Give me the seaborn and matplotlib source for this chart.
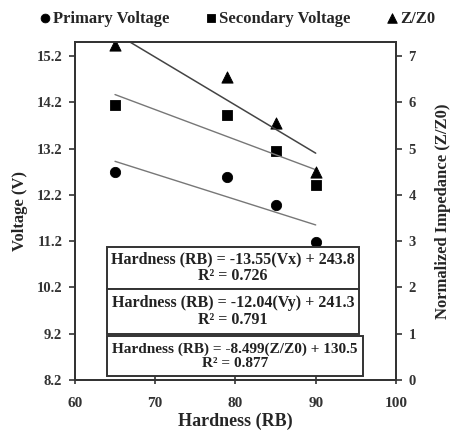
import numpy as np
import pandas as pd
import matplotlib
matplotlib.use("Agg")
import matplotlib.pyplot as plt
from matplotlib.patches import Rectangle
import seaborn as sns

# data
hardness = [65, 79, 85, 90]
primary_v = [12.70, 12.59, 11.98, 11.18]
secondary_v = [14.14, 13.93, 13.15, 12.41]
z_ratio = [7.24, 6.55, 5.56, 4.50]

equations = [
    "Hardness (RB) = -13.55(Vx) + 243.8\nR\u00b2 = 0.726",
    "Hardness (RB) = -12.04(Vy) + 241.3\nR\u00b2 = 0.791",
    "Hardness (RB) = -8.499(Z/Z0) + 130.5\nR\u00b2 = 0.877",
]

df = pd.DataFrame({"hardness": hardness, "primary": primary_v,
                   "secondary": secondary_v, "z": z_ratio})

sns.set_style("ticks")
plt.rcParams["font.family"] = ["Liberation Serif", "DejaVu Serif"]
plt.rcParams["font.weight"] = "bold"

fig = plt.figure(figsize=(4.51, 4.34), dpi=100)
ax = fig.add_axes([0.166, 0.1244, 0.712, 0.7788])
ax2 = ax.twinx()

# trend lines
sns.regplot(data=df, x="hardness", y="primary", ax=ax, ci=None, scatter=False,
            truncate=True, line_kws={"color": "#777777", "lw": 1.0})
sns.regplot(data=df, x="hardness", y="secondary", ax=ax, ci=None, scatter=False,
            truncate=True, line_kws={"color": "#777777", "lw": 1.0})
sns.regplot(data=df, x="hardness", y="z", ax=ax2, ci=None, scatter=False,
            truncate=True, line_kws={"color": "#444444", "lw": 1.1})

sns.scatterplot(data=df, x="hardness", y="primary", ax=ax, marker="o",
                color="black", s=55, edgecolor="black", label="Primary Voltage", legend=False)
sns.scatterplot(data=df, x="hardness", y="secondary", ax=ax, marker="s",
                color="black", s=55, edgecolor="black", label="Secondary Voltage", legend=False)
sns.scatterplot(data=df, x="hardness", y="z", ax=ax2, marker="^",
                color="black", s=65, edgecolor="black", label="Z/Z0", legend=False)

ax.set_xlim(60, 100)
ax.set_ylim(8.2, 15.5)
ax2.set_ylim(0, 7.3)
ax.set_xticks([60, 70, 80, 90, 100])
ax.set_yticks([8.2, 9.2, 10.2, 11.2, 12.2, 13.2, 14.2, 15.2])
ax.set_yticklabels(["8.2", "9.2", "10.2", "11.2", "12.2", "13.2", "14.2", "15.2"])
ax2.set_yticks(range(0, 8))

for a in (ax, ax2):
    for s in a.spines.values():
        s.set_visible(True)
        s.set_linewidth(1.3)
        s.set_color("#333333")
    a.tick_params(axis="y", direction="out", length=4, width=1.2, labelsize=10.5,
                  colors="#333333", pad=5)
ax.tick_params(axis="x", direction="inout", length=6, width=1.2, labelsize=11,
               colors="#333333", pad=9)

ax.set_xlabel("Hardness (RB)", fontsize=13, fontweight="bold", labelpad=2)
ax.set_ylabel("Voltage (V)", fontsize=12, fontweight="bold", labelpad=6)
ax2.set_ylabel("Normalized Impedance (Z/Z0)", fontsize=12, fontweight="bold", labelpad=14)

# equation boxes (axes fractions)
boxes = [(0.10, 0.269, 0.785, 0.124),
         (0.10, 0.136, 0.785, 0.133),
         (0.10, 0.012, 0.797, 0.118)]
for txt, (bx, by, bw, bh), fs in zip(equations, boxes, [11.5, 11.5, 11]):
    ax.add_patch(Rectangle((bx, by), bw, bh, transform=ax.transAxes, fc="white",
                           ec="#333333", lw=1.4, zorder=5))
    ax.text(bx + bw / 2, by + bh / 2, txt, transform=ax.transAxes, ha="center",
            va="center", fontsize=fs, fontweight="bold", linespacing=1.05,
            color="#222222", zorder=6)

h1, l1 = ax.get_legend_handles_labels()
h2, l2 = ax2.get_legend_handles_labels()
fig.legend(h1 + h2, l1 + l2, loc="upper center", bbox_to_anchor=(0.525, 1.01),
           ncol=3, frameon=False, handlelength=0.8, handletextpad=0.1,
           columnspacing=2.1, prop={"weight": "bold", "size": 12}, markerscale=0.85)

fig.savefig("out.png", dpi=100)
